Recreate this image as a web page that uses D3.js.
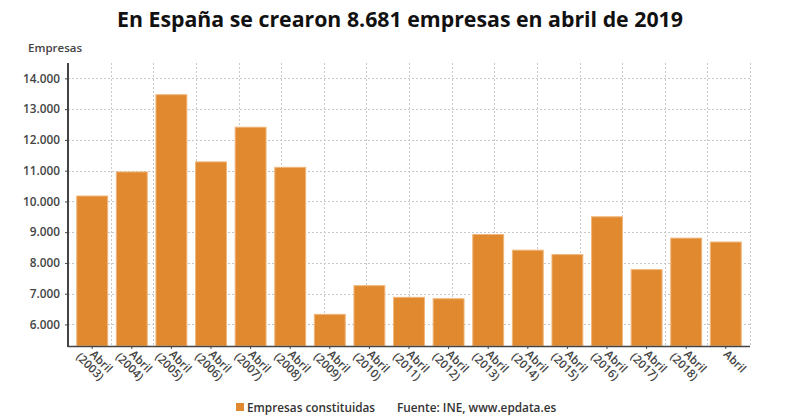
<!DOCTYPE html>
<html lang="es">
  <head>
    <meta charset="utf-8" />
    <style>
      body { margin: 0; background: #fff; }
      svg { font-family: "Open Sans", sans-serif; }
    </style>
  </head>
  <body>
    <script src="https://d3js.org/d3.v7.min.js"></script>
    <script>
      // data
      var years = ["2003", "2004", "2005", "2006", "2007", "2008", "2009", "2010", "2011",
        "2012", "2013", "2014", "2015", "2016", "2017", "2018", "2019"];
      var empresas = [10176, 10958, 13469, 11285, 12413, 11109, 6329, 7261, 6883,
        6837, 8924, 8415, 8272, 9501, 7783, 8807, 8681];
      var yTicks = [6000, 7000, 8000, 9000, 10000, 11000, 12000, 13000, 14000];

      var width = 790,
        height = 420;
      // plot edges (window.top is reserved, so prefixed names)
      var pLeft = 68, pRight = 750, pTop = 63, pBottom = 346;

      var svg = d3.select("body").append("svg")
        .attr("width", width)
        .attr("height", height);

      // title
      svg.append("text")
        .attr("x", 400).attr("y", 27)
        .attr("text-anchor", "middle")
        .attr("font-size", 21.3).attr("font-weight", 700)
        .attr("fill", "#111")
        .text("En España se crearon 8.681 empresas en abril de 2019");

      svg.append("text")
        .attr("x", 28).attr("y", 52)
        .attr("font-size", 11.5).attr("font-weight", 600).attr("fill", "#444")
        .text("Empresas");

      var x = d3.scaleBand().domain(years).range([72.4, 745.6]).paddingInner(0.22).paddingOuter(0.11);
      var y = d3.scaleLinear().domain([5300, 14500]).range([pBottom, pTop]);
      // vertical grid spacing (16 intervals over the plot)
      var xg = d3.scaleLinear().domain([0, 16]).range([pLeft, pRight]);

      // grid
      var grid = svg.append("g").attr("stroke", "#c8c8c8").attr("stroke-dasharray", "2,2").attr("stroke-width", 1);
      grid.selectAll(".h").data(yTicks).join("line")
        .attr("x1", pLeft).attr("x2", pRight)
        .attr("y1", function (d) { return Math.round(y(d)) + 0.5; })
        .attr("y2", function (d) { return Math.round(y(d)) + 0.5; });
      grid.selectAll(".v").data(d3.range(1, 17)).join("line")
        .attr("x1", function (d) { return Math.round(xg(d)) + 0.5; })
        .attr("x2", function (d) { return Math.round(xg(d)) + 0.5; })
        .attr("y1", pTop).attr("y2", pBottom);

      // bars
      svg.append("g").selectAll("rect")
        .data(empresas)
        .join("rect")
        .attr("x", function (d, i) { return x(years[i]); })
        .attr("width", x.bandwidth())
        .attr("y", function (d) { return y(d); })
        .attr("height", function (d) { return pBottom - y(d); })
        .attr("fill", "#e0892f")
        .attr("stroke", "#f0b67a")
        .attr("stroke-width", 1);

      // y axis
      var yAxis = svg.append("g")
        .attr("transform", "translate(" + pLeft + ",0)")
        .call(d3.axisLeft(y).tickValues(yTicks).tickSize(3).tickPadding(5)
          .tickFormat(function (d) { return d3.format(",")(d).replace(/,/g, "."); }));
      yAxis.select(".domain").attr("stroke", "#444").attr("stroke-width", 2).attr("d", "M0," + pTop + "V" + (pBottom + 1));
      yAxis.selectAll(".tick line").attr("stroke", "#444");
      yAxis.selectAll(".tick text").attr("font-size", 11.8).attr("font-weight", 600)
        .attr("fill", "#444").attr("font-family", "Open Sans, sans-serif");

      // x axis
      svg.append("clipPath").attr("id", "clipx")
        .append("rect").attr("x", 0).attr("y", pBottom).attr("width", width).attr("height", 40);
      var xAxis = svg.append("g")
        .attr("transform", "translate(0," + pBottom + ")")
        .call(d3.axisBottom(x).tickSize(3).tickFormat(""));
      xAxis.select(".domain").attr("stroke", "#444").attr("stroke-width", 1.5)
        .attr("d", "M" + pLeft + ",0.5H" + pRight);
      xAxis.selectAll(".tick line").attr("stroke", "#444");

      var labels = svg.append("g").attr("clip-path", "url(#clipx)")
        .selectAll("text").data(years).join("text")
        .attr("transform", function (d) {
          return "translate(" + (x(d) + x.bandwidth() / 2 - 3) + "," + (pBottom + 9) + ") rotate(45)";
        })
        .attr("font-size", 11.5).attr("font-weight", 600).attr("fill", "#444");
      labels.append("tspan").attr("x", 0).attr("y", 0).text("Abril");
      labels.filter(function (d) { return d !== "2019"; })
        .append("tspan").attr("x", -8).attr("y", 11.5).text(function (d) { return "(" + d + ")"; });

      // legend
      svg.append("rect").attr("x", 236).attr("y", 403).attr("width", 8).attr("height", 8).attr("fill", "#e0892f");
      svg.append("text").attr("x", 247).attr("y", 411.5)
        .attr("font-size", 11.8).attr("font-weight", 600).attr("fill", "#333")
        .text("Empresas constituidas");
      svg.append("text").attr("x", 397).attr("y", 411.5)
        .attr("font-size", 11.8).attr("font-weight", 600).attr("fill", "#333")
        .text("Fuente: INE, www.epdata.es");
    </script>
  </body>
</html>
